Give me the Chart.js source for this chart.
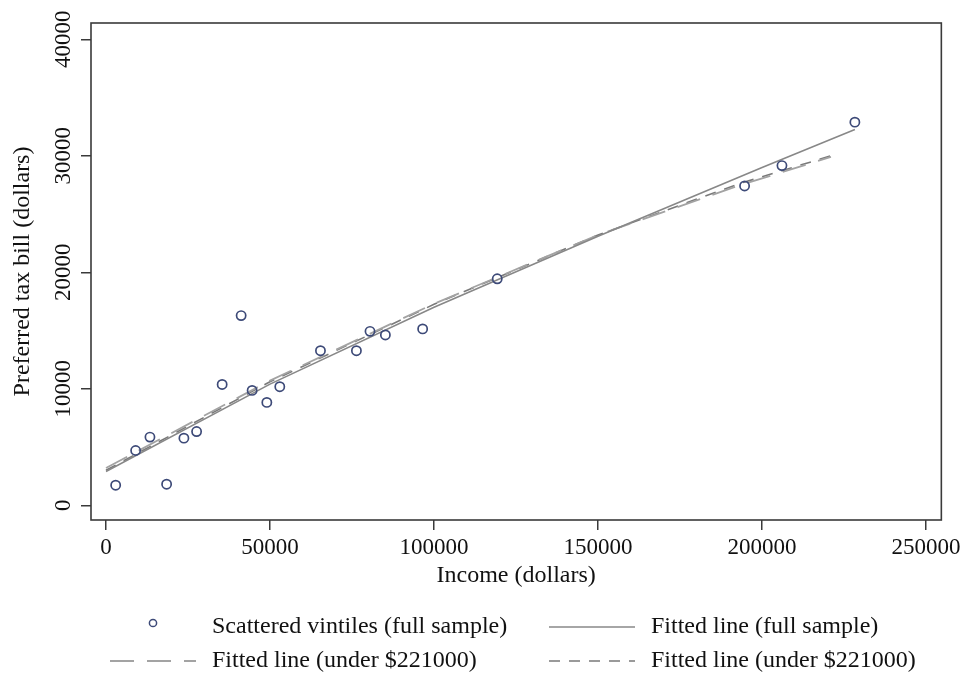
<!DOCTYPE html>
<html lang="en">
<head>
    <meta charset="UTF-8">
    <title>Preferred tax bill by income</title>
    <script src="https://cdn.jsdelivr.net/npm/chart.js"></script>
    <style>
        html, body {
            margin: 0;
            padding: 0;
            background-color: #fff;
        }

        #wrap {
            width: 965px;
            height: 674px;
        }
    </style>
</head>
<body>
    <div id="wrap">
        <canvas id="taxChart" width="965" height="674"></canvas>
    </div>

    <script>
        // Scattered vintiles (full sample)
        const vintileIncome = [2950, 9040, 13400, 18480, 23750, 27620, 35410, 41200, 44550, 49030,
                               52980, 65380, 76340, 80480, 85170, 96530, 119270, 194670, 206060, 228290];
        const vintileTax = [1720, 4700, 5850, 1810, 5760, 6330, 10370, 16280, 9860, 8830,
                            10180, 13270, 13270, 14930, 14620, 15140, 19440, 27410, 29160, 32890];

        // Fitted line (full sample)
        const fitFullIncome = [0, 50000, 100000, 150000, 200000, 228300];
        const fitFullTax = [2900, 10400, 17000, 23100, 29000, 32260];

        // Fitted lines (under $221000)
        const fitUnderIncome = [0, 50000, 100000, 150000, 193000, 221000];
        const fitUnderTaxA = [3200, 10700, 17300, 23200, 27450, 29900];
        const fitUnderTaxB = [3000, 10600, 17250, 23200, 27600, 30000];

        const xTicks = [0, 50000, 100000, 150000, 200000, 250000];
        const yTicks = [0, 10000, 20000, 30000, 40000];

        const legendLabels = [
            'Scattered vintiles (full sample)',
            'Fitted line (full sample)',
            'Fitted line (under $221000)',
            'Fitted line (under $221000)'
        ];

        const serif = '"Liberation Serif", "DejaVu Serif", serif';
        const axisColor = '#3a3a3a';

        function toPoints(xs, ys) {
            return xs.map((x, i) => ({ x: x, y: ys[i] }));
        }

        // box round the plot region
        const framePlugin = {
            id: 'frame',
            afterDatasetsDraw(chart) {
                const a = chart.chartArea;
                const ctx = chart.ctx;
                ctx.save();
                ctx.strokeStyle = axisColor;
                ctx.lineWidth = 1.6;
                ctx.strokeRect(a.left, a.top, a.right - a.left, a.bottom - a.top);
                ctx.restore();
            }
        };

        // two-column legend under the plot, like the Stata one
        const legendPlugin = {
            id: 'gridLegend',
            afterDraw(chart) {
                const ctx = chart.ctx;
                const cells = [
                    { sx: 110, tx: 212, y: 627 },
                    { sx: 549, tx: 651, y: 627 },
                    { sx: 110, tx: 212, y: 661 },
                    { sx: 549, tx: 651, y: 661 }
                ];
                const sampleW = 86;
                ctx.save();
                chart.data.datasets.forEach((ds, i) => {
                    const c = cells[i];
                    if (ds.showLine) {
                        ctx.strokeStyle = ds.borderColor;
                        ctx.lineWidth = ds.borderWidth;
                        ctx.setLineDash(ds.borderDash || []);
                        ctx.beginPath();
                        ctx.moveTo(c.sx, c.y);
                        ctx.lineTo(c.sx + sampleW, c.y);
                        ctx.stroke();
                    } else {
                        ctx.setLineDash([]);
                        ctx.strokeStyle = ds.pointBorderColor;
                        ctx.lineWidth = 1.5;
                        ctx.beginPath();
                        ctx.arc(c.sx + sampleW / 2, c.y - 4, 3.6, 0, Math.PI * 2);
                        ctx.stroke();
                    }
                    ctx.setLineDash([]);
                    ctx.fillStyle = '#111';
                    ctx.font = '24px ' + serif;
                    ctx.textAlign = 'left';
                    ctx.textBaseline = 'middle';
                    ctx.fillText(legendLabels[i], c.tx, c.y);
                });
                ctx.restore();
            }
        };

        const ctx = document.getElementById('taxChart').getContext('2d');
        const taxChart = new Chart(ctx, {
            type: 'scatter',
            data: {
                datasets: [
                    {
                        label: legendLabels[0],
                        data: toPoints(vintileIncome, vintileTax),
                        showLine: false,
                        pointRadius: 4.6,
                        pointBorderWidth: 1.7,
                        pointBorderColor: '#3d4a78',
                        pointBackgroundColor: 'rgba(0,0,0,0)',
                        order: 0
                    },
                    {
                        label: legendLabels[1],
                        data: toPoints(fitFullIncome, fitFullTax),
                        showLine: true,
                        borderColor: '#888888',
                        borderWidth: 1.6,
                        pointRadius: 0,
                        order: 1
                    },
                    {
                        label: legendLabels[2],
                        data: toPoints(fitUnderIncome, fitUnderTaxA),
                        showLine: true,
                        borderColor: '#a3a3a3',
                        borderWidth: 1.8,
                        borderDash: [24, 13],
                        pointRadius: 0,
                        order: 2
                    },
                    {
                        label: legendLabels[3],
                        data: toPoints(fitUnderIncome, fitUnderTaxB),
                        showLine: true,
                        borderColor: '#7a7a7a',
                        borderWidth: 1.6,
                        borderDash: [11, 9],
                        pointRadius: 0,
                        order: 3
                    }
                ]
            },
            options: {
                responsive: false,
                animation: false,
                devicePixelRatio: 1,
                layout: {
                    padding: { top: 23, right: 23, bottom: 84, left: 0 }
                },
                plugins: {
                    legend: { display: false },
                    tooltip: { enabled: false }
                },
                scales: {
                    x: {
                        type: 'linear',
                        position: 'bottom',
                        min: -4570,
                        max: 254650,
                        afterBuildTicks: scale => {
                            scale.ticks = xTicks.map(v => ({ value: v }));
                        },
                        afterFit: scale => {
                            scale.height = 70;
                        },
                        border: { display: false },
                        grid: {
                            drawOnChartArea: false,
                            drawTicks: true,
                            tickLength: 10,
                            color: axisColor,
                            lineWidth: 1.5
                        },
                        ticks: {
                            autoSkip: false,
                            maxRotation: 0,
                            padding: 4,
                            color: '#111',
                            font: { family: serif, size: 23 },
                            callback: v => String(v)
                        },
                        title: {
                            display: true,
                            text: 'Income (dollars)',
                            color: '#111',
                            font: { family: serif, size: 24 },
                            padding: { top: 0, bottom: 0 }
                        }
                    },
                    y: {
                        type: 'linear',
                        position: 'left',
                        min: -1265,
                        max: 41400,
                        afterBuildTicks: scale => {
                            scale.ticks = yTicks.map(v => ({ value: v }));
                        },
                        afterFit: scale => {
                            scale.width = 91;
                        },
                        border: { display: false },
                        grid: {
                            drawOnChartArea: false,
                            drawTicks: true,
                            tickLength: 10,
                            color: axisColor,
                            lineWidth: 1.5
                        },
                        ticks: {
                            autoSkip: false,
                            minRotation: 90,
                            maxRotation: 90,
                            crossAlign: 'center',
                            padding: -12,
                            color: '#111',
                            font: { family: serif, size: 23 },
                            callback: v => String(v)
                        },
                        title: {
                            display: true,
                            text: 'Preferred tax bill (dollars)',
                            color: '#111',
                            font: { family: serif, size: 24 },
                            padding: { top: 8, bottom: 0 }
                        }
                    }
                }
            },
            plugins: [framePlugin, legendPlugin]
        });
    </script>
</body>
</html>
